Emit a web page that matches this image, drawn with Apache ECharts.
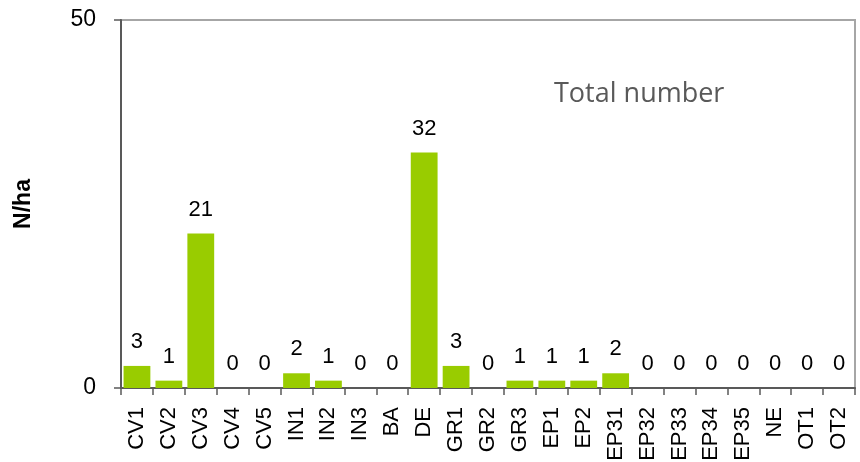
<!DOCTYPE html>
<html><head><meta charset="utf-8">
<script src="https://cdn.jsdelivr.net/npm/echarts@6/dist/echarts.min.js"></script>
<style>html,body{margin:0;padding:0;background:#fff}#c{width:860px;height:462px}</style>
</head><body><div id="c"></div>
<script>
const categories = ["CV1","CV2","CV3","CV4","CV5","IN1","IN2","IN3","BA","DE","GR1","GR2","GR3","EP1","EP2","EP31","EP32","EP33","EP34","EP35","NE","OT1","OT2"];
const values = [3,1,21,0,0,2,1,0,0,32,3,0,1,1,1,2,0,0,0,0,0,0,0];
const yTicks = [0,50];
const chart = echarts.init(document.getElementById('c'));
chart.setOption({
  animation:false,
  textStyle:{fontFamily:'Liberation Sans, Arial, sans-serif'},
  grid:{left:121,right:5,top:20,bottom:74,containLabel:false,outerBoundsMode:'none',show:true,borderColor:'#a6a6a6',borderWidth:2,backgroundColor:'transparent'},
  title:{text:'Total number',left:549,top:76,textStyle:{fontSize:27,fontWeight:'normal',color:'#595959',fontFamily:'Open Sans, sans-serif'}},
  xAxis:{type:'category',data:categories,
    axisLine:{lineStyle:{color:'#595959',width:2}},
    axisTick:{show:true,length:7,lineStyle:{color:'#595959',width:1.5}},
    axisLabel:{rotate:90,fontSize:22,color:'#000',margin:19,interval:0}},
  yAxis:{type:'value',min:yTicks[0],max:yTicks[1],interval:50,
    name:'N/ha',nameLocation:'middle',nameGap:86,nameRotate:90,
    nameTextStyle:{fontSize:23,fontWeight:'bold',color:'#000'},
    axisLine:{show:true,lineStyle:{color:'#595959',width:2}},
    axisTick:{show:true,length:7,lineStyle:{color:'#595959',width:1.5}},
    axisLabel:{fontSize:23,color:'#000',margin:25},
    splitLine:{show:false}},
  series:[{type:'bar',data:values,barCategoryGap:'16%',
    itemStyle:{color:'#99cc00'},
    label:{show:true,position:'top',distance:13,fontSize:22,color:'#000'}}]
});
</script></body></html>
